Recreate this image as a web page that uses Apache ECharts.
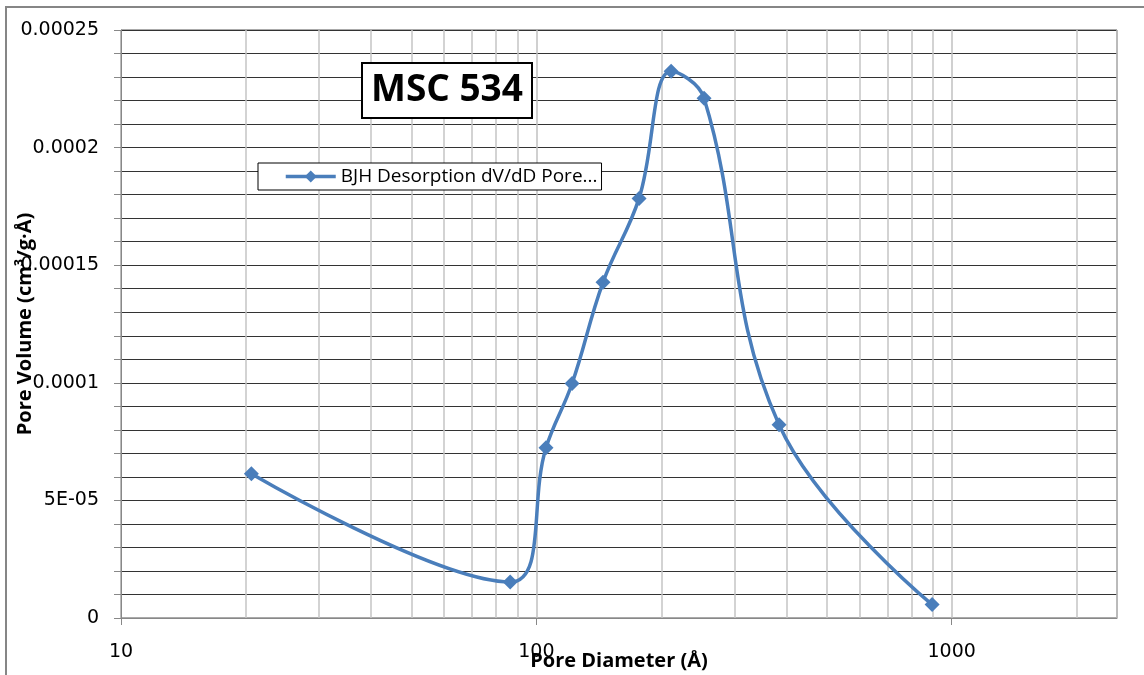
<!DOCTYPE html>
<html>
<head>
<meta charset="utf-8">
<title>MSC 534</title>
<script src="https://cdn.jsdelivr.net/npm/echarts@6/dist/echarts.min.js"></script>
<style>
  html, body { margin: 0; padding: 0; background: #fff; }
  #chart { width: 1144px; height: 675px; }
</style>
</head>
<body>
<div id="chart"></div>
<script>
// pore diameter (Å) and dV/dD pore volume (cm3/g·Å)
const poreDiameter = [20.6, 86.5, 105.5, 121.9, 144.7, 176.7, 211.1, 253.4, 384, 897]
const poreVolume = [6.13e-5, 1.53e-5, 7.24e-5, 9.97e-5, 1.427e-4, 1.784e-4, 2.325e-4, 2.21e-4, 8.22e-5, 5.7e-6]

// minor log gridlines (Excel draws 2..9 in every decade)
const minorGrid = [20, 30, 40, 50, 60, 70, 80, 90, 200, 300, 400, 500, 600, 700, 800, 900, 2000]
// y tick labels, one every 5 minor steps
const yTickText = ['0', '5E-05', '0.0001', '0.00015', '0.0002', '0.00025']

const seriesName = 'BJH Desorption dV/dD Pore Volume'
const legendText = 'BJH Desorption dV/dD Pore...'

const chart = echarts.init(document.getElementById('chart'))

chart.setOption({
  backgroundColor: '#fff',
  animation: false,
  textStyle: { fontFamily: 'Open Sans' },
  title: {
    text: 'MSC 534',
    left: 362,
    top: 63,
    padding: [9, 9],
    borderColor: '#000',
    borderWidth: 2,
    backgroundColor: '#fff',
    textStyle: {
      fontFamily: 'Open Sans',
      fontWeight: 'bold',
      fontSize: 37,
      color: '#000'
    }
  },
  legend: {
    left: 258,
    top: 163,
    padding: [4, 4, 4, 26],
    borderColor: '#000',
    borderWidth: 1,
    backgroundColor: '#fff',
    itemWidth: 50,
    itemHeight: 15,
    lineStyle: { width: 3.5 },
    formatter: () => legendText,
    textStyle: { fontSize: 19, color: '#000', fontFamily: 'Open Sans' }
  },
  graphic: [{
    type: 'rect',
    shape: { x: 6, y: 7, width: 1160, height: 700 },
    style: { fill: null, stroke: '#868686', lineWidth: 2 },
    silent: true
  }],
  grid: {
    left: 121,
    right: 27,
    top: 30,
    bottom: 57,
    containLabel: false,
    outerBoundsMode: 'none',
    show: true,
    borderColor: '#555',
    borderWidth: 1
  },
  xAxis: {
    type: 'log',
    logBase: 10,
    min: 10,
    max: 2500,
    name: 'Pore Diameter (Å)',
    nameLocation: 'middle',
    nameGap: 33,
    nameMoveOverlap: false,
    nameTextStyle: { fontFamily: 'Open Sans', fontWeight: 'bold', fontSize: 20, color: '#000' },
    axisLine: { lineStyle: { color: '#888' } },
    axisTick: { show: true, length: 7, lineStyle: { color: '#888' } },
    axisLabel: {
      margin: 25,
      fontFamily: 'DejaVu Sans',
      fontSize: 19,
      color: '#000',
      showMaxLabel: false,
      formatter: v => String(Math.round(v))
    },
    splitLine: { show: true, lineStyle: { color: '#c0c0c0', width: 1.5 } }
  },
  yAxis: {
    type: 'value',
    min: 0,
    max: 0.00025,
    interval: 0.00001,
    name: 'Pore Volume (cm³/g·Å)',
    nameLocation: 'middle',
    nameRotate: 90,
    nameGap: 86,
    nameMoveOverlap: false,
    nameTextStyle: { fontFamily: 'Open Sans', fontWeight: 'bold', fontSize: 20, color: '#000' },
    axisLine: { show: true, lineStyle: { color: '#888' } },
    axisTick: { show: true, length: 7, lineStyle: { color: '#888' } },
    axisLabel: {
      margin: 22,
      fontFamily: 'DejaVu Sans',
      fontSize: 19,
      color: '#000',
      formatter: v => {
        const i = Math.round(v * 1e5)
        return i % 5 === 0 ? yTickText[i / 5] : ''
      }
    },
    splitLine: { show: true, lineStyle: { color: '#333', width: 1 } }
  },
  series: [{
    name: seriesName,
    type: 'line',
    z: 3,
    smooth: 0.4,
    symbol: 'diamond',
    symbolSize: 15,
    showSymbol: true,
    color: '#4a7ebb',
    lineStyle: { width: 3.5, color: '#4a7ebb' },
    itemStyle: { color: '#4a7ebb' },
    data: poreDiameter.map((d, i) => [d, poreVolume[i]]),
    markLine: {
      silent: true,
      z: 1,
      symbol: 'none',
      label: { show: false },
      lineStyle: { color: '#c4c4c4', width: 1.5, type: 'solid' },
      data: minorGrid.map(v => ({ xAxis: v }))
    }
  }]
})
</script>
</body>
</html>
